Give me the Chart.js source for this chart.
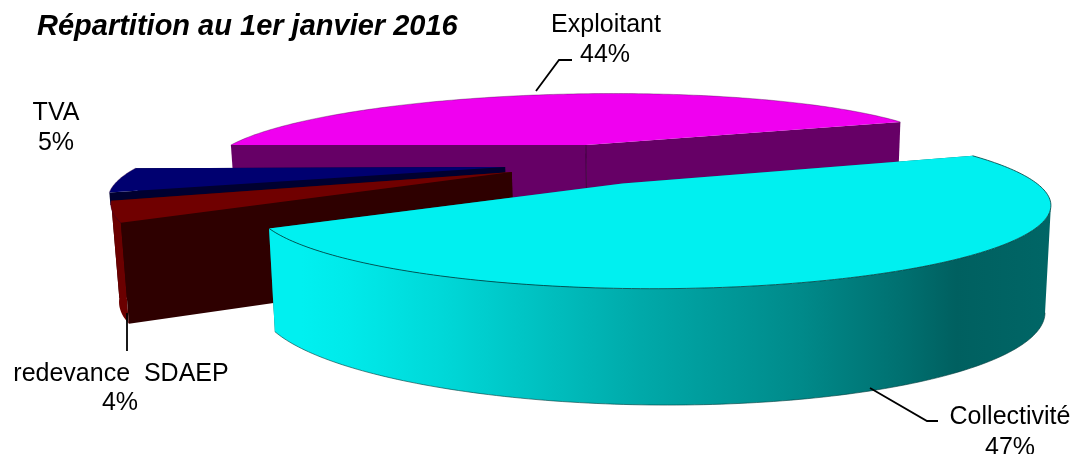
<!DOCTYPE html>
<html>
<head>
<meta charset="utf-8">
<style>
  html, body { margin: 0; padding: 0; background: #fff; }
  canvas { display: block; }
</style>
<script src="https://cdn.jsdelivr.net/npm/chart.js@4/dist/chart.umd.min.js"></script>
</head>
<body>
<canvas id="pieChart" width="1074" height="454"></canvas>
<script>
const chartTitle = 'Répartition au 1er janvier 2016';
const categories = ['Collectivité', 'redevance  SDAEP', 'TVA', 'Exploitant'];
const shares = [47, 4, 5, 44];
const topColors = ['#00F0F0', '#700000', '#000070', '#F000F0'];
const rimColors = [null, '#6B0000', null, null];
const cutColors = ['#006060', '#2E0000', '#000030', '#660066'];

// explosion of each slice, in % of the radius
const explosion = [28, 27, 27.4, 30.5];
const explodeTurn = [14, 0, 0, 0];
const sliceTurn = [0, -2, 0, 2.5];
const sliceScale = [0.99, 1.14, 1.15, 1.09];
const apexShift = [0, 0, 0, 0.08];

// perspective: the plane is mapped so the unit circle lands on this ellipse
const ell = { x: 650, y: 205, a: 402, b: 84 };
const tilt = [-0.0746, -0.262];
const gamma = 1 / Math.sqrt(1 - tilt[0] * tilt[0] - tilt[1] * tilt[1]);
const pieCentre = [-0.054, -0.266];

function project(X, Y, low) {
  const dot = tilt[0] * X + tilt[1] * Y;
  const d = 1 + dot;
  const k = gamma / (1 + gamma) * dot;
  let sx = ell.x + ell.a * (tilt[0] + X / gamma + k * tilt[0]) / d;
  let sy = ell.y + ell.b * (tilt[1] + Y / gamma + k * tilt[1]) / d;
  if (low) {
    sy += 52.8 + 46.6 / d;
    sx += (660 - sx) * 0.015;
  }
  return [sx, sy];
}

function rimPoints(s, low) {
  const pts = [];
  const n = Math.ceil((s.end - s.start) / (Math.PI / 180));
  for (let i = 0; i <= n; i++) {
    const a = s.start + (s.end - s.start) * i / n;
    pts.push(project(s.cx + s.r * Math.cos(a), s.cy + s.r * Math.sin(a), low));
  }
  return pts;
}

function tracePoly(ctx, pts) {
  ctx.beginPath();
  pts.forEach((p, i) => i ? ctx.lineTo(p[0], p[1]) : ctx.moveTo(p[0], p[1]));
  ctx.closePath();
}

function fillPoly(ctx, pts, color) {
  tracePoly(ctx, pts);
  ctx.fillStyle = color;
  ctx.fill();
}

function strokeLine(ctx, pts, color, width) {
  ctx.beginPath();
  pts.forEach((p, i) => i ? ctx.lineTo(p[0], p[1]) : ctx.moveTo(p[0], p[1]));
  ctx.strokeStyle = color;
  ctx.lineWidth = width;
  ctx.stroke();
}

function cutFace(ctx, s, angle, color) {
  const rx = s.cx + s.r * Math.cos(angle);
  const ry = s.cy + s.r * Math.sin(angle);
  fillPoly(ctx, [
    project(s.ax, s.ay, false), project(rx, ry, false),
    project(rx, ry, true), project(s.ax, s.ay, true)
  ], color);
}

const pie3d = {
  id: 'pie3d',
  beforeDatasetsDraw(chart) {
    const ctx = chart.ctx;
    const arcs = chart.getDatasetMeta(0).data;
    ctx.save();
    ctx.lineJoin = 'round';
    // painted from the back to the front
    [3, 2, 1, 0].forEach(i => {
      const arc = arcs[i];
      const mid = (arc.startAngle + arc.endAngle) / 2 + explodeTurn[i] * Math.PI / 180;
      const off = arc.options.offset / arc.outerRadius;
      const turn = sliceTurn[i] * Math.PI / 180;
      const cx = pieCentre[0] + Math.cos(mid) * off - apexShift[i];
      const cy = pieCentre[1] + Math.sin(mid) * off;
      const s = {
        start: arc.startAngle + turn,
        end: arc.endAngle + turn,
        r: sliceScale[i],
        cx, cy,
        ax: cx + apexShift[i],
        ay: cy
      };
      const upper = rimPoints(s, false);
      const lower = rimPoints(s, true);

      // TVA only shows a sliver of its cut side above the next slice
      ctx.save();
      if (i === 2) {
        ctx.beginPath();
        ctx.rect(0, 0, chart.width, 205);
        ctx.clip();
      }
      cutFace(ctx, s, s.end, cutColors[i]);

      let wall = rimColors[i];
      if (i === 0) {
        wall = ctx.createLinearGradient(270, 0, 1050, 0);
        wall.addColorStop(0, '#00F0F0');
        wall.addColorStop(0.04, '#00F0F0');
        wall.addColorStop(0.10, '#00EAEA');
        wall.addColorStop(0.22, '#00D8D8');
        wall.addColorStop(0.47, '#00AAAA');
        wall.addColorStop(0.68, '#008A8A');
        wall.addColorStop(0.81, '#007070');
        wall.addColorStop(0.88, '#006060');
        wall.addColorStop(1, '#006666');
      }
      if (wall) {
        // the band starts at the rightmost rim point, what is behind it cannot be seen
        let first = 0;
        upper.forEach((p, j) => { if (p[0] > upper[first][0]) first = j; });
        const frontUp = upper.slice(first);
        const frontLow = lower.slice(first);
        fillPoly(ctx, frontUp.concat(frontLow.slice().reverse()), wall);
        if (i === 0) strokeLine(ctx, frontLow, 'rgba(0,60,60,0.6)', 1);
      }
      cutFace(ctx, s, s.start, cutColors[i]);
      ctx.restore();

      if (i === 3) {
        strokeLine(ctx, [project(s.ax, s.ay, false), project(s.ax, s.ay, true)], '#3A003A', 1);
      }
      fillPoly(ctx, [project(s.ax, s.ay, false)].concat(upper), topColors[i]);
      strokeLine(ctx, upper, i === 0 ? 'rgba(0,60,60,0.8)' : 'rgba(60,0,60,0.35)', 1);
    });
    ctx.restore();
    return false;
  }
};

const textFont = '25px "Liberation Sans", Arial, sans-serif';
// label placement, same order as the categories: name, then share (baselines)
const labelSpots = [
  { name: [1010, 424], share: [1010, 455] },
  { name: [121, 381], share: [120, 410] },
  { name: [56, 120], share: [56, 150] },
  { name: [606, 32], share: [605, 62] }
];
const leaders = [
  [[870, 388], [927, 421], [938, 421]],
  [[127, 313], [127, 351]],
  null,
  [[536, 91], [559, 60], [572, 60]]
];

const pieLabels = {
  id: 'pieLabels',
  afterDraw(chart) {
    const ctx = chart.ctx;
    ctx.save();
    leaders.forEach(line => {
      if (line) strokeLine(ctx, line, '#000', 1.8);
    });
    ctx.fillStyle = '#000';
    ctx.textBaseline = 'alphabetic';
    ctx.textAlign = 'center';
    ctx.font = textFont;
    categories.forEach((name, i) => {
      ctx.fillText(name, labelSpots[i].name[0], labelSpots[i].name[1]);
      ctx.fillText(shares[i] + '%', labelSpots[i].share[0], labelSpots[i].share[1]);
    });
    ctx.textAlign = 'left';
    ctx.font = 'italic bold 29px "Liberation Sans", Arial, sans-serif';
    ctx.fillText(chartTitle, 37, 35);
    ctx.restore();
  }
};

new Chart(document.getElementById('pieChart').getContext('2d'), {
  type: 'pie',
  data: {
    labels: categories,
    datasets: [{
      data: shares,
      backgroundColor: topColors,
      borderWidth: 0,
      offset: explosion
    }]
  },
  options: {
    responsive: false,
    animation: false,
    events: [],
    rotation: 69,
    radius: 100,
    plugins: { legend: { display: false }, tooltip: { enabled: false } }
  },
  plugins: [pie3d, pieLabels]
});
</script>
</body>
</html>
